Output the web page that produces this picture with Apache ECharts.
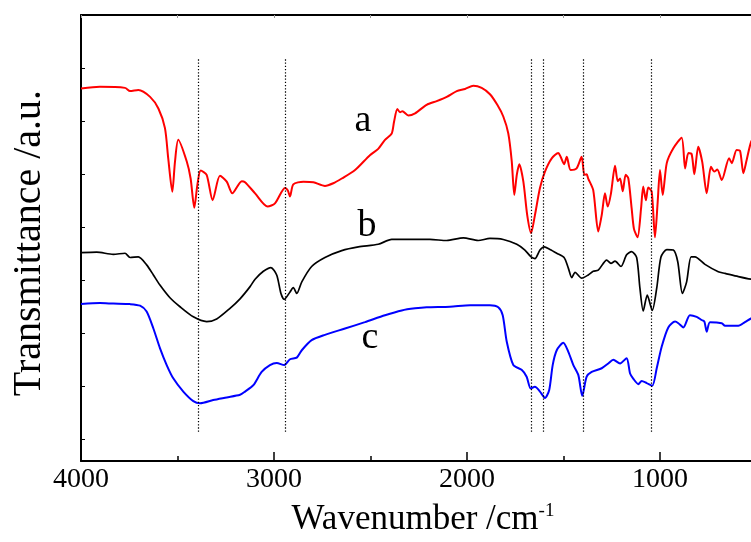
<!DOCTYPE html>
<html>
<head>
<meta charset="utf-8">
<script src="https://cdn.jsdelivr.net/npm/echarts@6/dist/echarts.min.js"></script>
<style>html,body{margin:0;padding:0;background:#fff}#c{width:751px;height:542px}</style>
</head>
<body>
<div id="c"></div>
<script>
// Wavenumber (cm^-1) and transmittance (a.u., offset curves)
const aWave = [4000,3902,3772,3746,3703,3642,3599,3565,3548,3527,3513,3496,3452,3432,3413,3397,3380,3349,3318,3280,3245,3216,3167,3150,3098,3033,2995,2943,2929,2917,2900,2848,2796,2736,2693,2649,2580,2503,2460,2425,2390,2378,2361,2347,2335,2304,2269,2209,2157,2105,2053,2010,1967,1924,1881,1843,1812,1786,1768,1755,1742,1729,1708,1688,1668,1648,1622,1596,1561,1527,1515,1497,1483,1463,1432,1406,1392,1380,1372,1346,1320,1302,1285,1271,1254,1233,1219,1207,1193,1178,1164,1147,1135,1116,1098,1087,1073,1061,1043,1026,1012,1000,986,965,931,888,870,853,836,822,802,781,758,736,719,703,680,642,628,603,585,568,551,528,500];
const aT = [7.03,7.06,7.04,6.98,7.00,6.87,6.65,6.28,5.71,5.08,5.65,6.06,5.65,5.33,4.78,5.21,5.48,5.40,4.92,5.38,5.27,5.05,5.28,5.26,5.05,4.80,4.86,5.15,5.11,4.99,5.22,5.27,5.26,5.19,5.24,5.33,5.49,5.77,5.89,6.06,6.18,6.40,6.64,6.58,6.60,6.52,6.56,6.72,6.79,6.87,6.98,7.02,7.08,7.04,6.92,6.72,6.50,6.18,5.65,5.02,5.40,5.60,5.27,4.64,4.30,4.64,5.15,5.46,5.71,5.81,5.74,5.60,5.74,5.49,5.52,5.74,5.40,5.41,5.33,5.11,4.33,4.64,5.05,4.80,5.05,5.57,5.28,5.33,5.09,5.40,5.33,4.77,4.38,4.22,4.77,5.18,4.92,5.16,5.08,4.22,4.89,5.49,5.02,5.62,5.90,6.10,5.52,5.81,5.79,5.41,5.93,5.64,5.05,5.55,5.46,5.50,5.30,5.71,5.62,5.87,5.85,5.43,5.68,6.02,6.19];

const bWave = [4000,3919,3833,3772,3746,3703,3660,3625,3591,3539,3487,3418,3349,3297,3228,3176,3124,3098,3055,3016,2986,2964,2947,2917,2900,2882,2856,2805,2736,2649,2563,2460,2390,2338,2192,2105,2019,1942,1881,1812,1742,1700,1668,1648,1622,1600,1570,1535,1497,1475,1457,1440,1406,1372,1346,1320,1276,1254,1233,1202,1173,1147,1121,1104,1087,1066,1040,1017,995,965,931,908,884,862,839,819,767,698,663,594,528,500];
const bT = [3.93,3.94,3.90,3.92,3.84,3.85,3.70,3.51,3.32,3.08,2.91,2.72,2.63,2.68,2.88,3.06,3.29,3.43,3.58,3.65,3.51,3.16,3.05,3.19,3.27,3.16,3.38,3.67,3.84,3.97,4.04,4.09,4.18,4.18,4.18,4.16,4.21,4.16,4.20,4.18,4.09,3.98,3.85,3.82,3.98,4.04,3.99,3.92,3.84,3.64,3.46,3.56,3.45,3.51,3.58,3.60,3.79,3.73,3.77,3.67,3.89,3.95,3.84,3.26,2.83,3.13,2.84,3.26,3.85,3.99,3.98,3.76,3.16,3.38,3.85,3.85,3.71,3.57,3.54,3.48,3.43,3.42];

const cWave = [4000,3902,3833,3746,3694,3660,3625,3591,3556,3522,3470,3418,3383,3315,3245,3176,3150,3107,3064,3021,2986,2947,2917,2882,2856,2805,2736,2632,2529,2425,2338,2269,2209,2088,1984,1881,1838,1815,1794,1760,1717,1691,1670,1648,1622,1596,1574,1556,1535,1501,1475,1449,1423,1403,1380,1354,1302,1268,1242,1207,1173,1155,1138,1112,1095,1069,1040,1017,991,957,922,905,879,845,810,784,770,758,741,680,663,594,560,528,500];
const cT = [2.96,2.98,2.97,2.96,2.93,2.82,2.50,2.13,1.81,1.56,1.31,1.13,1.09,1.15,1.20,1.25,1.31,1.43,1.68,1.81,1.85,1.81,1.92,1.95,2.09,2.28,2.38,2.50,2.62,2.75,2.84,2.88,2.90,2.91,2.94,2.94,2.90,2.75,2.25,1.81,1.72,1.59,1.37,1.40,1.31,1.19,1.34,1.81,2.09,2.23,2.06,1.81,1.62,1.23,1.59,1.68,1.75,1.84,1.91,1.84,1.94,1.65,1.55,1.45,1.51,1.47,1.42,1.75,2.16,2.52,2.63,2.60,2.52,2.75,2.72,2.66,2.63,2.44,2.62,2.60,2.55,2.55,2.62,2.69,2.74];

const peakLines = [3390, 2940, 1665, 1605, 1400, 1045];
const peakLineRange = [0.55, 7.60];
const xRange = [528.5, 4000];   // visible part of the 500–4000 axis (right end is cut off)
const xMajorTicks = [1000, 2000, 3000, 4000];
const xMinorTicks = [1500, 2500, 3500];
const xLabels = [1000, 2000, 3000, 4000];
const yTicks = [0.415, 1.415, 2.415, 3.415, 4.415, 5.415, 6.415, 7.415];
const seriesNames = ['a', 'b', 'c'];

const FONT = '"Liberation Serif","Times New Roman",serif';
const pairs = (w, t) => w.map((v, i) => [v, t[i]]);

const chart = echarts.init(document.getElementById('c'), null, {renderer: 'canvas'});
const gridRect = {left: 81, right: 0, top: 15, bottom: 81};
const xBase = {type: 'value', min: xRange[0], max: xRange[1], inverse: true, splitLine: {show: false}};

chart.setOption({
  backgroundColor: '#fff',
  animation: false,
  grid: [Object.assign({}, gridRect), Object.assign({}, gridRect)],
  xAxis: [
    Object.assign({}, xBase, {
      gridIndex: 0, position: 'bottom',
      axisLine: {show: true, onZero: false, lineStyle: {color: '#000', width: 2}},
      axisTick: {show: true, inside: true, length: 9, customValues: xMajorTicks, lineStyle: {color: '#000', width: 1.5}},
      axisLabel: {show: true, customValues: xLabels, margin: 5, color: '#000', fontFamily: FONT, fontSize: 28,
        formatter: v => String(v)}
    }),
    Object.assign({}, xBase, {
      gridIndex: 0, position: 'top',
      axisLine: {show: true, onZero: false, lineStyle: {color: '#000', width: 2}},
      axisTick: {show: true, inside: true, length: 3, customValues: xMajorTicks.concat(xMinorTicks), lineStyle: {color: '#999', width: 1}},
      axisLabel: {show: false}
    }),
    Object.assign({}, xBase, {
      gridIndex: 1, position: 'bottom',
      axisLine: {show: false},
      axisTick: {show: true, inside: true, length: 5, customValues: xMinorTicks, lineStyle: {color: '#000', width: 1.5}},
      axisLabel: {show: false}
    })
  ],
  yAxis: [
    {
      type: 'value', gridIndex: 0, min: 0, max: 8.415, position: 'left',
      axisLine: {show: true, onZero: false, lineStyle: {color: '#000', width: 2}},
      axisTick: {show: true, inside: true, length: 4, customValues: yTicks, lineStyle: {color: '#000', width: 1}},
      axisLabel: {show: false}, splitLine: {show: false}
    },
    {type: 'value', gridIndex: 1, min: 0, max: 8.415, show: false}
  ],
  series: [
    {
      name: seriesNames[0], type: 'line', xAxisIndex: 0, yAxisIndex: 0,
      data: pairs(aWave, aT), showSymbol: false, smooth: 0.25,
      lineStyle: {color: '#ff0000', width: 2}, z: 3,
      markLine: {
        silent: true, symbol: ['none', 'none'], label: {show: false},
        lineStyle: {color: '#000', width: 1.2, type: [1.3, 1.9]},
        data: peakLines.map(w => [{coord: [w, peakLineRange[0]]}, {coord: [w, peakLineRange[1]]}])
      }
    },
    {
      name: seriesNames[1], type: 'line', xAxisIndex: 0, yAxisIndex: 0,
      data: pairs(bWave, bT), showSymbol: false, smooth: 0.25,
      lineStyle: {color: '#000000', width: 1.7}, z: 3
    },
    {
      name: seriesNames[2], type: 'line', xAxisIndex: 0, yAxisIndex: 0,
      data: pairs(cWave, cT), showSymbol: false, smooth: 0.25,
      lineStyle: {color: '#0000ff', width: 2}, z: 3
    }
  ],
  graphic: [
    {type: 'text', x: 363, y: 121, style: {text: seriesNames[0], font: '38px ' + FONT, fill: '#000', align: 'center', verticalAlign: 'middle'}},
    {type: 'text', x: 367, y: 226, style: {text: seriesNames[1], font: '38px ' + FONT, fill: '#000', align: 'center', verticalAlign: 'middle'}},
    {type: 'text', x: 370, y: 338, style: {text: seriesNames[2], font: '38px ' + FONT, fill: '#000', align: 'center', verticalAlign: 'middle'}},
    {type: 'text', x: 29, y: 243, rotation: Math.PI / 2,
      style: {text: 'Transmittance /a.u.', font: '40px ' + FONT, fill: '#000', align: 'center', verticalAlign: 'middle'}},
    {type: 'text', x: 423, y: 520,
      style: {text: '{m|Wavenumber /cm}{s|-1}', fill: '#000', align: 'center', verticalAlign: 'middle',
        rich: {
          m: {fontFamily: FONT, fontSize: 35, lineHeight: 36, fill: '#000', color: '#000'},
          s: {fontFamily: FONT, fontSize: 19, lineHeight: 36, verticalAlign: 'top', fill: '#000', color: '#000'}
        }}}
  ]
});
</script>
</body>
</html>
